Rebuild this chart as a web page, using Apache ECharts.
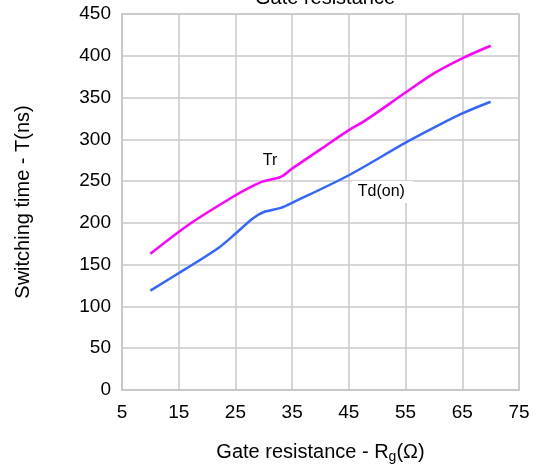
<!DOCTYPE html>
<html><head><meta charset="utf-8">
<script src="https://cdn.jsdelivr.net/npm/echarts@6/dist/echarts.min.js"></script>
<style>html,body{margin:0;padding:0;background:#fff}#c{width:537px;height:469px}</style>
</head><body><div id="c"></div>
<script>
const xTicks = [5, 15, 25, 35, 45, 55, 65, 75];
const yTicks = [0, 50, 100, 150, 200, 250, 300, 350, 400, 450];
const trX = [10, 17, 25, 28, 30, 33, 35, 40, 45, 48, 55, 60, 65, 70];
const trY = [163, 199, 233, 244, 250, 255, 265, 288, 311, 323, 356, 379, 397, 412];
const tdX = [10, 16, 22, 25, 28, 30, 33, 35, 45, 55, 60, 65, 70];
const tdY = [119, 144, 170, 187, 205, 213, 218, 224, 257, 296, 314, 331, 345];
const labelTr = [31.1, 274.5];
const labelTd = [50.9, 237];

const chart = echarts.init(document.getElementById('c'), null, {renderer: 'canvas'});
const font = 'Liberation Sans, Arial, sans-serif';
chart.setOption({
  animation: false,
  title: {text: 'Gate resistance', left: 320, textAlign: 'center', top: -17,
    textStyle: {fontFamily: font, fontSize: 20, fontWeight: 'normal', color: '#000'}},
  grid: {left: 122, right: 18, top: 14, bottom: 78, show: true, borderColor: '#c8c8c8', borderWidth: 1.5},
  xAxis: {type: 'value', min: 5, max: 75, interval: 10,
    axisLine: {show: true, lineStyle: {color: '#c8c8c8', width: 1.5}}, axisTick: {show: false},
    splitLine: {show: true, lineStyle: {color: '#c8c8c8', width: 1.5}},
    axisLabel: {fontFamily: font, fontSize: 19, color: '#000', margin: 13},
    name: 'Gate resistance - R{s|g}(Ω)', nameLocation: 'middle', nameGap: 50,
    nameTextStyle: {fontFamily: font, fontSize: 20, color: '#000',
      rich: {s: {fontFamily: font, fontSize: 14, color: '#000', verticalAlign: 'bottom', padding: [10, 0, 0, 0]}}}},
  yAxis: {type: 'value', min: 0, max: 450, interval: 50,
    axisLine: {show: true, lineStyle: {color: '#c8c8c8', width: 1.5}}, axisTick: {show: false},
    splitLine: {show: true, lineStyle: {color: '#c8c8c8', width: 1.5}},
    axisLabel: {fontFamily: font, fontSize: 19, color: '#000', margin: 11},
    name: 'Switching time - T(ns)', nameLocation: 'middle', nameGap: 89, nameRotate: 90,
    nameTextStyle: {fontFamily: font, fontSize: 20, color: '#000'}},
  series: [
    {type: 'line', name: 'Tr', data: trX.map((x, i) => [x, trY[i]]), smooth: 0.3, showSymbol: false,
      lineStyle: {color: '#ff00ff', width: 2.5}, z: 3,
      markPoint: {symbol: 'rect', symbolSize: 0, data: [{coord: labelTr}],
        label: {show: true, formatter: 'Tr', fontFamily: font, fontSize: 16, color: '#000'}}},
    {type: 'line', name: 'Td(on)', data: tdX.map((x, i) => [x, tdY[i]]), smooth: 0.3, showSymbol: false,
      lineStyle: {color: '#3366ff', width: 2.5}, z: 3,
      markPoint: {symbol: 'rect', symbolSize: 0, data: [{coord: labelTd}],
        label: {show: true, formatter: 'Td(on)', fontFamily: font, fontSize: 16, color: '#000',
          backgroundColor: '#fff', padding: [3, 8, 3, 6]}}}
  ]
});
</script></body></html>
